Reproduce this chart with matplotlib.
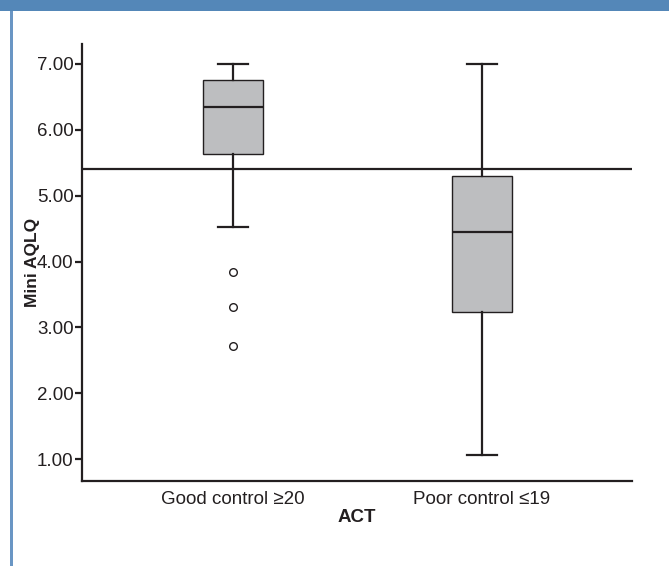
import matplotlib
matplotlib.use("Agg")
import matplotlib.pyplot as plt
from matplotlib.patches import Rectangle

plt.rcParams['font.family'] = ['Liberation Sans', 'DejaVu Sans']

categories = ["Good control \u226520", "Poor control \u226419"]
whislo = [4.53, 1.07]
q1 = [5.63, 3.23]
med = [6.35, 4.45]
q3 = [6.75, 5.30]
whishi = [7.00, 7.00]
fliers = [[3.84, 3.31, 2.72], []]
ref_line = 5.40
yticks = [1.0, 2.0, 3.0, 4.0, 5.0, 6.0, 7.0]

fig = plt.figure(figsize=(6.69, 5.66), dpi=100)
fig.patch.set_facecolor('white')
# decorative frame: blue top band and left rule
fig.add_artist(Rectangle((0, 1 - 11 / 566), 1, 11 / 566, transform=fig.transFigure,
                         facecolor='#5487B8', edgecolor='none'))
fig.add_artist(Rectangle((10 / 669, 0), 2.5 / 669, 1 - 11 / 566, transform=fig.transFigure,
                         facecolor='#6A96C4', edgecolor='none'))

ax = fig.add_axes([82 / 669, 1 - 481 / 566, (632 - 82) / 669, (481 - 44) / 566])

stats = []
for i in range(len(categories)):
    stats.append(dict(whislo=whislo[i], q1=q1[i], med=med[i], q3=q3[i],
                      whishi=whishi[i], fliers=fliers[i], label=categories[i]))

lw = 1.6
ax.bxp(stats, positions=[1, 2], widths=0.241, patch_artist=True,
       boxprops=dict(facecolor='#BDBEC0', edgecolor='#231F20', linewidth=1.0),
       medianprops=dict(color='#231F20', linewidth=lw),
       whiskerprops=dict(color='#231F20', linewidth=lw),
       capprops=dict(color='#231F20', linewidth=lw),
       capwidths=0.121,
       flierprops=dict(marker='o', markersize=5.5, markerfacecolor='white',
                       markeredgecolor='#231F20', markeredgewidth=1.0))

ax.axhline(ref_line, color='#231F20', linewidth=lw, zorder=1)

ax.set_xlim(0.394, 2.602)
ax.set_ylim(0.67, 7.30)
ax.set_yticks(yticks)
ax.set_yticklabels([f"{v:.2f}" for v in yticks], fontsize=13.5, color='#231F20')
ax.set_xticklabels(categories, fontsize=13.5, color='#231F20')
ax.tick_params(axis='x', length=0, pad=7)
ax.tick_params(axis='y', length=5, width=lw, color='#231F20', pad=1)

for s in ['top', 'right']:
    ax.spines[s].set_visible(False)
for s in ['left', 'bottom']:
    ax.spines[s].set_linewidth(lw)
    ax.spines[s].set_color('#231F20')

ax.set_ylabel("Mini AQLQ", fontsize=12.5, fontweight='bold', color='#231F20', labelpad=-2)
ax.set_xlabel("ACT", fontsize=13.5, fontweight='bold', color='#231F20', labelpad=1)

fig.savefig("out.png", dpi=100)
